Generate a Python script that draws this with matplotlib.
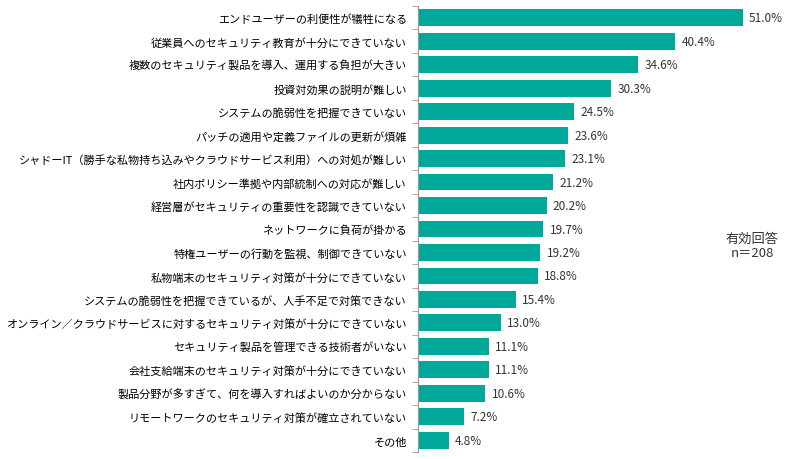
import matplotlib.pyplot as plt
import numpy as np

plt.rcParams['font.family'] = ['Noto Sans CJK JP', 'DejaVu Sans']

labels = [
    'エンドユーザーの利便性が犠牲になる',
    '従業員へのセキュリティ教育が十分にできていない',
    '複数のセキュリティ製品を導入、運用する負担が大きい',
    '投資対効果の説明が難しい',
    'システムの脆弱性を把握できていない',
    'パッチの適用や定義ファイルの更新が煩雑',
    'シャドーIT（勝手な私物持ち込みやクラウドサービス利用）への対処が難しい',
    '社内ポリシー準拠や内部統制への対応が難しい',
    '経営層がセキュリティの重要性を認識できていない',
    'ネットワークに負荷が掛かる',
    '特権ユーザーの行動を監視、制御できていない',
    '私物端末のセキュリティ対策が十分にできていない',
    'システムの脆弱性を把握できているが、人手不足で対策できない',
    'オンライン／クラウドサービスに対するセキュリティ対策が十分にできていない',
    'セキュリティ製品を管理できる技術者がいない',
    '会社支給端末のセキュリティ対策が十分にできていない',
    '製品分野が多すぎて、何を導入すればよいのか分からない',
    'リモートワークのセキュリティ対策が確立されていない',
    'その他',
]
values = [51.0, 40.4, 34.6, 30.3, 24.5, 23.6, 23.1, 21.2, 20.2, 19.7,
          19.2, 18.8, 15.4, 13.0, 11.1, 11.1, 10.6, 7.2, 4.8]

fig = plt.figure(figsize=(8, 4.6), dpi=100)
ax = fig.add_axes([0.5225, 0.015, 0.4775, 0.97])
y = np.arange(len(values))
ax.barh(y, values, height=0.72, color='#00a89a')
ax.set_xlim(0, 60)
ax.set_ylim(len(values) - 0.5, -0.5)
ax.set_yticks(y)
ax.set_yticklabels(labels, fontsize=8)
ax.set_yticks(np.arange(len(values) + 1) - 0.5, minor=True)
ax.tick_params(axis='y', which='major', length=0, pad=8)
ax.tick_params(axis='y', which='minor', length=4, color='#999999')
ax.set_xticks([])
for s in ['top', 'right', 'bottom']:
    ax.spines[s].set_visible(False)
ax.spines['left'].set_color('#999999')
for yi, v in zip(y, values):
    ax.text(v + 1.0, yi, f'{v:.1f}%', va='center', ha='left', fontsize=8.5, color='#333333')
ax.text(52.5, 9.7, '有効回答\nn＝208', ha='center', va='center', fontsize=9.5,
        color='#333333', linespacing=1.1)
fig.savefig('out.png', dpi=100)
